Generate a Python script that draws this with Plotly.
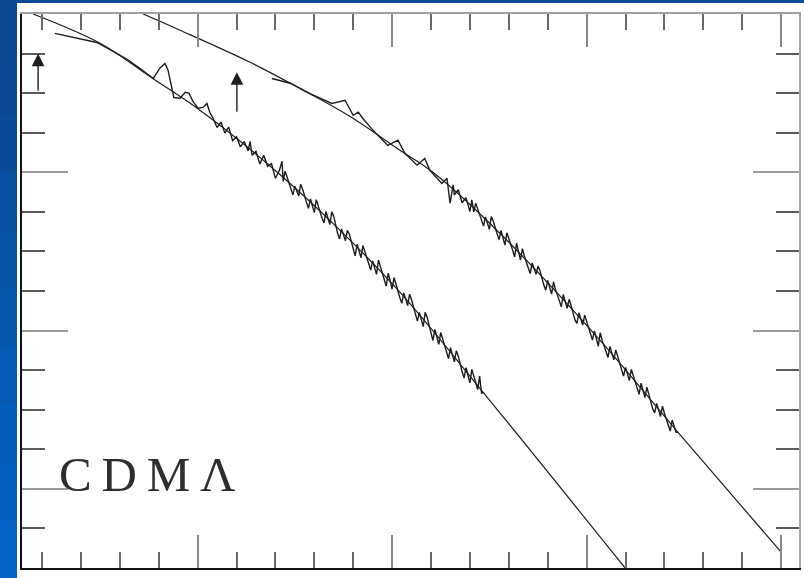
import plotly.graph_objects as go

# ---- data (axis units: one tick = 1) ----
# smooth model curves
model_lo_x = [0.77, 2.49, 3.85, 5.06, 6.78, 8.48, 10.20, 12.34, 15.99]
model_lo_y = [14.0, 13.26, 12.37, 11.57, 10.23, 8.71, 6.97, 4.44, 0.0]
model_hi_x = [3.60, 4.55, 6.35, 7.63, 8.92, 10.20, 11.05, 12.77, 15.34, 17.35, 20.0]
model_hi_y = [14.0, 13.59, 12.78, 12.12, 11.41, 10.56, 10.0, 8.46, 5.76, 3.43, 0.40]

# noisy measured traces
data_lo_x = [1.33, 2.41, 2.75, 3.20, 3.52, 3.86, 4.03, 4.16, 4.24, 4.32, 4.39, 4.55, 4.68, 4.78,
             4.88, 5.01, 5.14, 5.24, 5.32,
             5.40, 5.50, 5.60, 5.70, 5.80, 5.90, 6.00, 6.10, 6.20, 6.30, 6.35, 6.40, 6.50, 6.60,
             6.70, 6.80, 6.90, 7.00, 7.10, 7.17,
             7.20, 7.25, 7.30, 7.40, 7.45, 7.50, 7.60, 7.65, 7.70, 7.80, 7.85, 7.90,
             8.00, 8.05, 8.10, 8.20, 8.25, 8.30, 8.40, 8.45, 8.50, 8.60, 8.65, 8.70, 8.80, 8.85, 8.90,
             9.00, 9.05, 9.10, 9.20, 9.25, 9.30, 9.40, 9.45, 9.50, 9.60, 9.65, 9.70, 9.80, 9.85, 9.90,
             10.00, 10.05, 10.10, 10.20, 10.25, 10.30, 10.40, 10.45, 10.50, 10.60, 10.65, 10.70,
             10.80, 10.85, 10.90, 11.00, 11.05, 11.10, 11.20, 11.25, 11.30, 11.40, 11.45, 11.50,
             11.60, 11.65, 11.70, 11.80, 11.85, 11.90, 12.00, 12.05, 12.10, 12.20, 12.25, 12.30, 12.34]
data_lo_y = [13.51, 13.28, 13.10, 12.85, 12.62, 12.37, 12.63, 12.75, 12.58, 12.20, 11.89, 11.87, 12.02, 12.00,
             11.79, 11.62, 11.64, 11.74, 11.50,
             11.36, 11.13, 11.27, 10.99, 11.14, 10.80, 10.90, 10.64, 10.78, 10.54, 10.78, 10.43, 10.53, 10.21,
             10.43, 10.15, 10.22, 9.85, 10.04, 10.28,
             9.77, 10.03, 9.88, 9.54, 9.43, 9.65, 9.40, 9.70, 9.57, 9.24, 9.09, 9.33,
             8.98, 9.31, 9.13, 8.84, 8.72, 9.01, 8.68, 9.00, 8.89, 8.45, 8.32, 8.57, 8.27, 8.53, 8.44,
             8.10, 7.89, 8.18, 7.84, 8.15, 8.00, 7.68, 7.53, 7.76, 7.42, 7.78, 7.61, 7.31, 7.12, 7.45,
             7.05, 7.34, 7.15, 6.83, 6.69, 6.95, 6.63, 6.92, 6.78, 6.38, 6.24, 6.46,
             6.10, 6.46, 6.34, 5.94, 5.75, 6.03, 5.65, 5.95, 5.77, 5.43, 5.29, 5.57,
             5.21, 5.49, 5.36, 4.96, 4.80, 5.06, 4.68, 5.02, 4.84, 4.51, 4.85, 4.41, 4.44]

data_hi_x = [6.91, 7.38, 7.89, 8.45, 8.79, 9.00, 9.13, 9.25, 9.51, 9.89, 10.15, 10.33, 10.64, 10.84,
             10.97, 11.28, 11.41, 11.49, 11.57,
             11.60, 11.70, 11.80, 11.90,
             12.00, 12.05, 12.10, 12.15, 12.20, 12.30, 12.35, 12.40, 12.50, 12.55, 12.60, 12.70, 12.75,
             12.80, 12.90, 12.95, 13.00, 13.10, 13.15, 13.20, 13.30, 13.35, 13.40, 13.50, 13.55,
             13.60, 13.70, 13.75, 13.80, 13.90, 13.95, 14.00, 14.10, 14.15, 14.20, 14.30, 14.35,
             14.40, 14.50, 14.55, 14.60, 14.70, 14.75, 14.80, 14.90, 14.95, 15.00, 15.10, 15.15,
             15.20, 15.30, 15.35, 15.40, 15.50, 15.55, 15.60, 15.70, 15.75, 15.80, 15.90, 15.95,
             16.00, 16.10, 16.15, 16.20, 16.30, 16.35, 16.40, 16.50, 16.55, 16.60, 16.70, 16.75,
             16.80, 16.90, 16.95, 17.00, 17.10, 17.15, 17.20, 17.30, 17.35]
data_hi_y = [12.37, 12.25, 11.99, 11.74, 11.82, 11.44, 11.52, 11.36, 11.06, 10.68, 10.81, 10.48, 10.18, 10.35,
             10.05, 9.72, 9.85, 9.22, 9.68,
             9.43, 9.56, 9.23, 9.36,
             9.01, 9.30, 9.00, 9.22, 9.07, 8.76, 8.64, 8.87, 8.56, 8.88, 8.77, 8.44, 8.30,
             8.53, 8.16, 8.47, 8.34, 8.03, 7.86, 8.21, 7.78, 8.07, 7.88, 7.55, 7.44,
             7.71, 7.42, 7.63, 7.52, 7.15, 7.02, 7.27, 6.92, 7.23, 7.04, 6.75, 6.60,
             6.91, 6.56, 6.79, 6.64, 6.27, 6.18, 6.45, 6.14, 6.39, 6.22, 5.87, 5.76,
             5.99, 5.60, 5.95, 5.75, 5.47, 5.32, 5.60, 5.26, 5.51, 5.35, 4.99, 4.85,
             5.07, 4.74, 5.02, 4.86, 4.56, 4.39, 4.67, 4.31, 4.57, 4.37, 4.02, 3.92,
             4.16, 3.83, 4.09, 3.91, 3.61, 3.46, 3.74, 3.43, 3.43]

# arrows (tail -> head)
arrow_x = [0.90, 6.01]
arrow_tail_y = [12.02, 11.49]
arrow_head_y = [13.00, 12.53]

label_text = "C\u2009D\u2009M\u2009\u039b"
label_x, label_y = 3.72, 2.37

X_RANGE = [0.486, 20.46]
Y_RANGE = [0.0, 14.0]

ink = "#1e1e1e"
fig = go.Figure()
fig.add_trace(go.Scatter(x=model_lo_x, y=model_lo_y, mode="lines",
                         line=dict(color=ink, width=1.2, shape="spline", smoothing=1.0)))
fig.add_trace(go.Scatter(x=model_hi_x, y=model_hi_y, mode="lines",
                         line=dict(color=ink, width=1.2, shape="spline", smoothing=1.0)))
fig.add_trace(go.Scatter(x=data_lo_x, y=data_lo_y, mode="lines",
                         line=dict(color=ink, width=1.4)))
fig.add_trace(go.Scatter(x=data_hi_x, y=data_hi_y, mode="lines",
                         line=dict(color=ink, width=1.4)))
# invisible trace to activate the secondary (top/right) axes
fig.add_trace(go.Scatter(x=[X_RANGE[0]], y=[Y_RANGE[0]], xaxis="x2", yaxis="y2",
                         mode="markers", marker=dict(opacity=0), hoverinfo="skip"))

for ax, ay, hy in zip(arrow_x, arrow_tail_y, arrow_head_y):
    fig.add_annotation(x=ax, y=hy, ax=ax, ay=ay, axref="x", ayref="y", xref="x", yref="y",
                       text="", showarrow=True, arrowhead=2, arrowsize=1.8,
                       arrowwidth=1.4, arrowcolor=ink)

fig.add_annotation(x=label_x, y=label_y, xref="x", yref="y", text=label_text,
                   showarrow=False, font=dict(family="Liberation Serif, serif", size=49, color="#2e2e2e"))

def xaxis_cfg(color, side):
    return dict(range=X_RANGE, showgrid=False, zeroline=False, showticklabels=False,
                showline=True, linecolor=color, linewidth=2, side=side,
                ticks="inside", tick0=0, dtick=5, ticklen=33, tickwidth=2, tickcolor="#8a8a8a",
                minor=dict(ticks="inside", tick0=0, dtick=1, ticklen=16, tickwidth=2, tickcolor="#6a6a6a"))

def yaxis_cfg(color, side):
    return dict(range=Y_RANGE, showgrid=False, zeroline=False, showticklabels=False,
                showline=True, linecolor=color, linewidth=2, side=side,
                ticks="inside", tick0=2, dtick=4, ticklen=46, tickwidth=2, tickcolor="#9a9a9a",
                minor=dict(ticks="inside", tick0=0, dtick=1, ticklen=23, tickwidth=2, tickcolor="#5a5a5a"))

xb = xaxis_cfg("#111111", "bottom")
xt = xaxis_cfg("#a0a0a0", "top"); xt.update(overlaying="x")
yl = yaxis_cfg("#111111", "left")
yr = yaxis_cfg("#a8a8a8", "right"); yr.update(overlaying="y")

# slide background: white sheet on blue
shapes = [dict(type="rect", xref="paper", yref="paper", x0=-0.0065, x1=1.0065, y0=-0.019, y1=1.02,
               fillcolor="white", line=dict(width=0), layer="below")]
top_c = (11, 70, 142)
bot_c = (4, 100, 200)
nb = 10
for i in range(nb):
    t = i / (nb - 1)
    c = tuple(int(top_c[k] + (bot_c[k] - top_c[k]) * t) for k in range(3))
    y1 = 1.026 - i * (1.026 + 0.019) / nb
    y0 = y1 - (1.026 + 0.019) / nb - 0.002
    shapes.append(dict(type="rect", xref="paper", yref="paper", x0=-0.03, x1=-0.0065, y0=y0, y1=y1,
                       fillcolor="rgb(%d,%d,%d)" % c, line=dict(width=0), layer="below"))

fig.update_layout(
    width=804, height=578,
    margin=dict(l=22, r=5, t=14, b=10),
    paper_bgcolor="#0b4a94", plot_bgcolor="white",
    showlegend=False,
    xaxis=xb, xaxis2=xt, yaxis=yl, yaxis2=yr,
    shapes=shapes,
)

fig.write_html("out.html")
